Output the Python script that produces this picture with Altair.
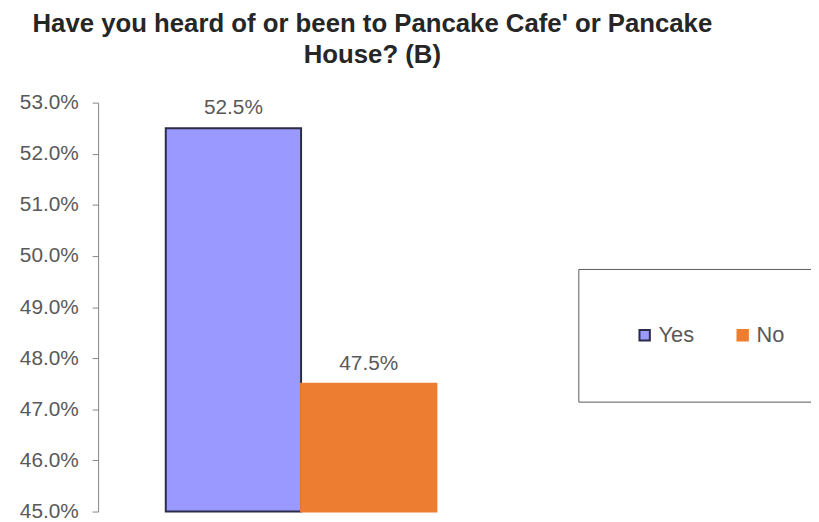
import altair as alt
import pandas as pd

answers = ["Yes", "No"]
shares = [0.525, 0.475]
colors = ["#9999ff", "#ed7d31"]
strokes = ["#2b2b4a", "#ed7d31"]
y_ticks = [0.45, 0.46, 0.47, 0.48, 0.49, 0.50, 0.51, 0.52, 0.53]
baseline_value = [0.45, 0.45]

df = pd.DataFrame({"answer": answers, "share": shares, "base": baseline_value})

text_color = "#595959"

x_enc = alt.X("answer:N", sort=answers,
              scale=alt.Scale(domain=answers, paddingInner=0, paddingOuter=0.5),
              axis=None)

bars = alt.Chart(df).mark_bar(strokeWidth=2).encode(
    x=x_enc,
    y=alt.Y("share:Q",
            scale=alt.Scale(domain=[0.45, 0.53], zero=False, nice=False),
            axis=alt.Axis(values=y_ticks, format=".1%", grid=False,
                          domainColor="#868686", tickColor="#868686",
                          tickSize=6, labelPadding=14, labelFontSize=21,
                          labelColor=text_color, labelFont="Liberation Sans",
                          title=None)),
    y2=alt.Y2("base:Q"),
    fill=alt.Fill("answer:N", sort=answers,
                  scale=alt.Scale(domain=answers, range=colors),
                  title=None,
                  legend=alt.Legend(orient="none", legendX=485, legendY=168,
                                    direction="horizontal", columns=2,
                                    padding=56, strokeColor="#595959",
                                    fillColor="white",
                                    symbolType="square", symbolSize=110,
                                    symbolStrokeWidth=2, labelFontSize=22,
                                    labelColor=text_color, labelFont="Liberation Sans",
                                    columnPadding=38, symbolOffset=0,
                                    labelOffset=3)),
    stroke=alt.Stroke("answer:N", sort=answers,
                      scale=alt.Scale(domain=answers, range=strokes),
                      title=None),
)

labels = alt.Chart(df).mark_text(baseline="middle", dy=-20, fontSize=21,
                                 color=text_color, font="Liberation Sans").encode(
    x=x_enc,
    y=alt.Y("share:Q"),
    text=alt.Text("share:Q", format=".1%"),
)

chart = alt.layer(bars, labels).properties(
    width=410,
    height=413,
    autosize=alt.AutoSizeParams(type="none"),
    padding={"left": 91, "top": 93, "right": 310, "bottom": 8},
    title=alt.Title(["Have you heard of or been to Pancake Cafe' or Pancake", "House? (B)"],
                    anchor="middle", dx=72, offset=24, fontSize=26,
                    font="Liberation Sans", fontWeight="bold",
                    color="#262626", lineHeight=31),
).configure_view(stroke=None)

chart.save("out.html", embed_options={"renderer": "svg", "actions": False})
